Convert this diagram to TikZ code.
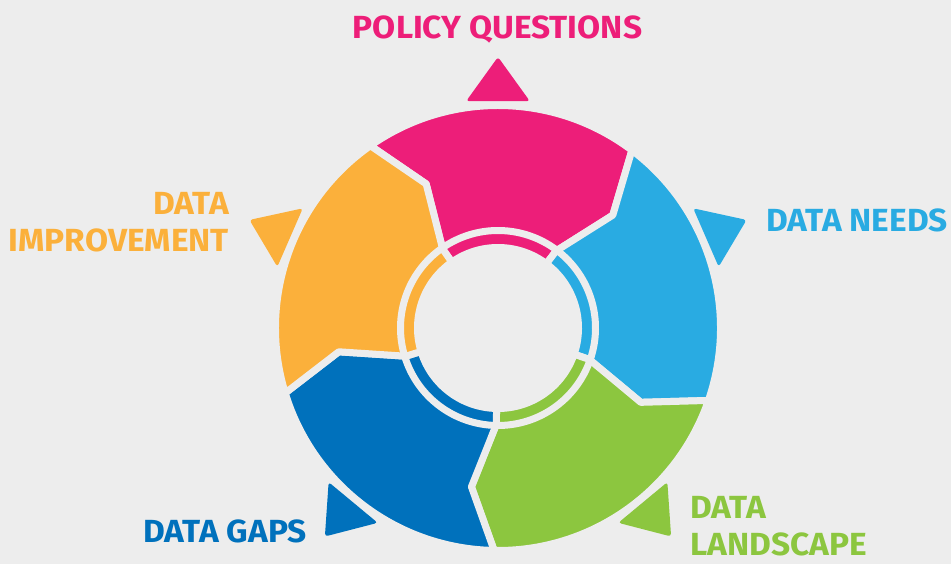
\documentclass[tikz,border=0pt]{standalone}
\usepackage{fontspec}
\setmainfont{Fira Sans}[FakeStretch=1.045]
\usepackage{tikz}
\definecolor{bgc}{HTML}{EDEDED}
\definecolor{pinkq}{HTML}{ED1E79}
\definecolor{blueq}{HTML}{29ABE2}
\definecolor{greenq}{HTML}{8CC63F}
\definecolor{navyq}{HTML}{0071BC}
\definecolor{orangeq}{HTML}{FBB03B}

\begin{document}
\begin{tikzpicture}[x=1pt,y=1pt]
\tikzset{seg/.style={draw=bgc,line width=7pt,line join=round},tip/.style={rounded corners=3pt},lbl/.style={inner sep=0pt,font=\fontsize{32}{37}\selectfont\bfseries}}
\useasboundingbox (0,0) rectangle (951,564);
\fill[bgc] (0,0) rectangle (951,564);
\begin{scope}[shift={(498,236)}]
% ring pieces, tail at \a, head at \a-72
\foreach \a/\c in {125/pinkq,53/blueq,-19/greenq,-91/navyq,-163/orangeq}{
\fill[seg,fill=\c] (\a:222.5) arc[start angle=\a,end angle=\a-72,radius=222.5] -- (\a-80.5:161) -- (\a-72:96.5) arc[start angle=\a-72,end angle=\a,radius=96.5] -- (\a-8.5:161) -- cycle;
\fill[seg,fill=\c] (\a:97.5) arc[start angle=\a,end angle=\a-72,radius=97.5] -- (\a-72:80.5) arc[start angle=\a-72,end angle=\a,radius=80.5] -- cycle;
}
% outer arrow tips
\foreach \t/\c in {90/pinkq,23.5/blueq,-50.3/greenq,-129.7/navyq,156.5/orangeq}
\fill[tip,\c] (\t+8:229) -- (\t:271) -- (\t-8:229) -- cycle;
\end{scope}
\node[lbl,pinkq,anchor=base] (policy) at (497.5,525) {POLICY QUESTIONS};
\node[lbl,blueq,anchor=base west] (needs) at (766,332) {DATA NEEDS};
\node[lbl,greenq,anchor=base west,align=left] (landscape) at (690,8) {DATA\\LANDSCAPE};
\node[lbl,navyq,anchor=base west] (gaps) at (143,21) {DATA GAPS};
\node[lbl,orangeq,anchor=base east,align=right] (improve) at (229,312) {DATA\\IMPROVEMENT};
\end{tikzpicture}
\end{document}
